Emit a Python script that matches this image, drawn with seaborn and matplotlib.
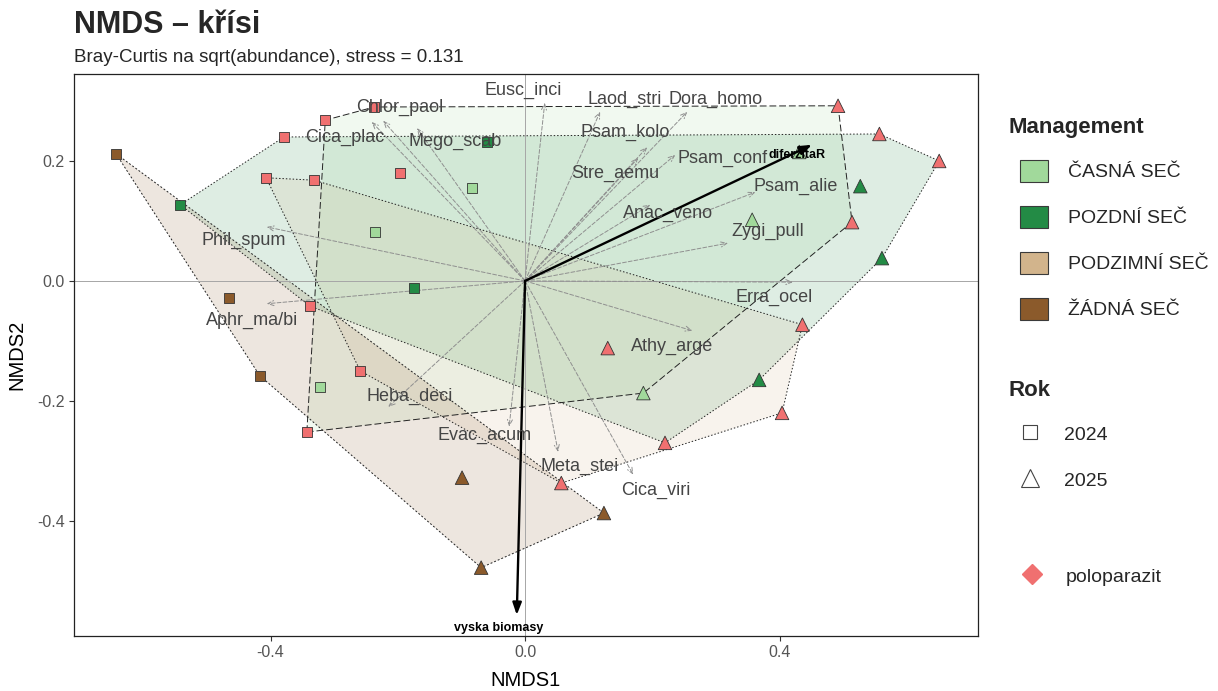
import numpy as np
import pandas as pd
import matplotlib
matplotlib.use("Agg")
import matplotlib.pyplot as plt
import seaborn as sns
from matplotlib.patches import Patch, Polygon
from matplotlib.lines import Line2D

# ---------------- data ----------------
mgmt_levels = ["ČASNÁ SEČ", "POZDNÍ SEČ", "PODZIMNÍ SEČ", "ŽÁDNÁ SEČ"]
mgmt_colors = ["#a1d99b", "#238b45", "#d2b48c", "#8b5a2b"]
polo_color = "#f07070"

site_mgmt = (["ČASNÁ SEČ"] * 11 + ["POZDNÍ SEČ"] * 12 +
             ["PODZIMNÍ SEČ"] * 7 + ["ŽÁDNÁ SEČ"] * 6)
site_year = (["2024"] * 6 + ["2025"] * 5 +
             ["2024"] * 6 + ["2025"] * 6 +
             ["2024"] * 3 + ["2025"] * 4 +
             ["2024"] * 3 + ["2025"] * 3)
site_polo = ([False, False, False, True, True, True, False, False, False, True, True] +
             [False, False, False, True, True, True, False, False, False, True, True, True] +
             [True] * 7 +
             [False] * 6)
site_x = [-0.083, -0.236, -0.322, -0.314, -0.237, -0.343, 0.186, 0.357, 0.431, 0.492, 0.514,
          -0.542, -0.060, -0.175, -0.379, -0.338, -0.197, 0.527, 0.561, 0.368, 0.557, 0.651, 0.220,
          -0.407, -0.332, -0.259, 0.057, 0.404, 0.436, 0.130,
          -0.643, -0.465, -0.417, -0.099, 0.124, -0.069]
site_y = [0.155, 0.082, -0.177, 0.268, 0.290, -0.252, -0.187, 0.102, 0.215, 0.292, 0.098,
          0.127, 0.232, -0.012, 0.240, -0.042, 0.180, 0.158, 0.038, -0.165, 0.245, 0.200, -0.270,
          0.172, 0.168, -0.150, -0.337, -0.220, -0.073, -0.112,
          0.212, -0.028, -0.158, -0.328, -0.387, -0.478]

sp_names = ["Eusc_inci", "Laod_stri", "Dora_homo", "Psam_kolo", "Psam_conf", "Stre_aemu",
            "Psam_alie", "Anac_veno", "Zygi_pull", "Erra_ocel", "Athy_arge", "Cica_viri",
            "Meta_stei", "Evac_acum", "Heba_deci", "Aphr_ma/bi", "Phil_spum", "Chlor_paol",
            "Cica_plac", "Mego_scab"]
sp_x = [0.031, 0.118, 0.255, 0.192, 0.236, 0.178, 0.362, 0.197, 0.319, 0.421, 0.263, 0.170,
        0.052, -0.025, -0.215, -0.406, -0.406, -0.223, -0.241, -0.170]
sp_y = [0.297, 0.282, 0.282, 0.223, 0.210, 0.205, 0.148, 0.127, 0.063, -0.002, -0.083, -0.323,
        -0.285, -0.243, -0.210, -0.038, 0.090, 0.267, 0.265, 0.255]
# repelled label positions
sp_lab_x = [-0.003, 0.156, 0.300, 0.157, 0.310, 0.142, 0.425, 0.225, 0.382, 0.392, 0.231, 0.206,
            0.086, -0.064, -0.182, -0.429, -0.442, -0.197, -0.283, -0.110]
sp_lab_y = [0.317, 0.303, 0.303, 0.248, 0.205, 0.180, 0.158, 0.113, 0.082, -0.027, -0.110, -0.350,
            -0.310, -0.257, -0.192, -0.065, 0.068, 0.290, 0.240, 0.232]

env_names = ["diferzitaR", "vyska biomasy"]
env_x = [0.451, -0.013]
env_y = [0.227, -0.557]
env_lab_x = [0.428, -0.041]
env_lab_y = [0.210, -0.578]

df = pd.DataFrame({"NMDS1": site_x, "NMDS2": site_y, "Management": site_mgmt,
                   "Rok": site_year, "polo": site_polo})
pal = dict(zip(mgmt_levels, mgmt_colors))
markers = {"2024": "s", "2025": "^"}
sizes = {"2024": 52, "2025": 95}


def convex_hull(points):
    pts = sorted(set(points))
    def cross(o, a, b):
        return (a[0] - o[0]) * (b[1] - o[1]) - (a[1] - o[1]) * (b[0] - o[0])
    lower, upper = [], []
    for p in pts:
        while len(lower) >= 2 and cross(lower[-2], lower[-1], p) <= 0:
            lower.pop()
        lower.append(p)
    for p in reversed(pts):
        while len(upper) >= 2 and cross(upper[-2], upper[-1], p) <= 0:
            upper.pop()
        upper.append(p)
    return lower[:-1] + upper[:-1]


# ---------------- plot ----------------
sns.set_theme(style="white")
plt.rcParams["font.family"] = ["Liberation Sans", "DejaVu Sans"]

fig = plt.figure(figsize=(12.18, 6.91), dpi=100)
ax = fig.add_axes([74 / 1218, 1 - 636 / 691, (978 - 74) / 1218, (636 - 74) / 691])

hull_styles = {"ČASNÁ SEČ": (0, (7, 3)), "POZDNÍ SEČ": (0, (1.5, 2)),
               "PODZIMNÍ SEČ": (0, (1.5, 2)), "ŽÁDNÁ SEČ": (0, (2, 2))}
for m in mgmt_levels:
    sub = df[df.Management == m]
    h = convex_hull(list(zip(sub.NMDS1, sub.NMDS2)))
    ax.add_patch(Polygon(h, closed=True, facecolor=pal[m], alpha=0.15,
                         edgecolor="none", zorder=1))
    hx = [p[0] for p in h] + [h[0][0]]
    hy = [p[1] for p in h] + [h[0][1]]
    ax.plot(hx, hy, color="#222222", lw=0.7, linestyle=hull_styles[m], zorder=1.2)

ax.axhline(0, color="#a6a6a6", lw=0.7, zorder=1.5)
ax.axvline(0, color="#a6a6a6", lw=0.7, zorder=1.5)

for x, y in zip(sp_x, sp_y):
    ax.annotate("", xy=(x, y), xytext=(0, 0),
                arrowprops=dict(arrowstyle="->,head_length=0.35,head_width=0.15",
                                color="#8f8f8f", lw=0.7, linestyle=(0, (4, 2)),
                                shrinkA=0, shrinkB=0), zorder=2)

sns.scatterplot(data=df[~df.polo], x="NMDS1", y="NMDS2", hue="Management",
                hue_order=mgmt_levels, palette=pal, style="Rok", markers=markers,
                size="Rok", sizes=sizes,
                edgecolor="#333333", linewidth=0.6, legend=False, ax=ax, zorder=4)
sns.scatterplot(data=df[df.polo], x="NMDS1", y="NMDS2", style="Rok", markers=markers,
                size="Rok", sizes=sizes,
                color=polo_color, edgecolor="#333333", linewidth=0.6,
                legend=False, ax=ax, zorder=4)

for x, y in zip(env_x, env_y):
    ax.annotate("", xy=(x, y), xytext=(0, 0),
                arrowprops=dict(arrowstyle="-|>,head_length=0.6,head_width=0.22",
                                color="black", lw=1.7, shrinkA=0, shrinkB=0), zorder=5)

for name, x, y in zip(sp_names, sp_lab_x, sp_lab_y):
    ax.text(x, y, name, fontsize=13, color="#454545", ha="center", va="center", zorder=6)
for name, x, y in zip(env_names, env_lab_x, env_lab_y):
    ax.text(x, y, name, fontsize=9, color="black", fontweight="bold",
            ha="center", va="center", zorder=6)

ax.set_xlim(-0.709, 0.712)
ax.set_ylim(-0.592, 0.345)
ax.set_xticks([-0.4, 0.0, 0.4])
ax.set_xticklabels(["-0.4", "0.0", "0.4"])
ax.set_yticks([-0.4, -0.2, 0.0, 0.2])
ax.set_yticklabels(["-0.4", "-0.2", "0.0", "0.2"])
ax.tick_params(axis="both", which="both", direction="out", length=3.5, width=0.8,
               color="#333333", labelcolor="#555555", labelsize=11.5, pad=3,
               bottom=True, left=True)
for sp in ax.spines.values():
    sp.set_color("#222222")
    sp.set_linewidth(0.9)
ax.set_xlabel("NMDS1", fontsize=14.5, color="black", labelpad=8)
ax.set_ylabel("NMDS2", fontsize=14.5, color="black", labelpad=8)

fig.text(74 / 1218, 1 - 33 / 691, "NMDS – křísi", fontsize=22, fontweight="bold",
         ha="left", va="baseline")
fig.text(74 / 1218, 1 - 62 / 691, "Bray-Curtis na sqrt(abundance), stress = 0.131",
         fontsize=13.5, ha="left", va="baseline")

# ---------------- legends ----------------
fig.text(1008 / 1218, 1 - 128 / 691, "Management", fontsize=16, fontweight="bold",
         ha="left", va="center")
mg_handles = [Patch(facecolor=c, edgecolor="#3a3a3a", linewidth=0.8) for c in mgmt_colors]
leg1 = fig.legend(mg_handles, mgmt_levels, loc="upper left",
                  bbox_to_anchor=(1020 / 1218, 1 - 160 / 691), frameon=False,
                  fontsize=14, handlelength=1.45, handleheight=1.35, labelspacing=1.24,
                  handletextpad=1.0, borderpad=0, borderaxespad=0)

fig.text(1008 / 1218, 1 - 390 / 691, "Rok", fontsize=16, fontweight="bold",
         ha="left", va="center")
rok_handles = [Line2D([], [], linestyle="none", marker="s", markersize=10,
                      markerfacecolor="none", markeredgecolor="#444444", markeredgewidth=0.8),
               Line2D([], [], linestyle="none", marker="^", markersize=13,
                      markerfacecolor="none", markeredgecolor="#444444", markeredgewidth=0.8)]
leg2 = fig.legend(rok_handles, ["2024", "2025"], loc="upper left",
                  bbox_to_anchor=(1016 / 1218, 1 - 423 / 691), frameon=False,
                  fontsize=14, handlelength=1.45, handleheight=1.35, labelspacing=1.24,
                  handletextpad=1.0, borderpad=0, borderaxespad=0)

polo_handle = [Line2D([], [], linestyle="none", marker="D", markersize=10,
                      markerfacecolor=polo_color, markeredgecolor=polo_color)]
leg3 = fig.legend(polo_handle, ["poloparazit"], loc="upper left",
                  bbox_to_anchor=(1018 / 1218, 1 - 565 / 691), frameon=False,
                  fontsize=14, handlelength=1.45, handleheight=1.35,
                  handletextpad=1.0, borderpad=0, borderaxespad=0)

fig.savefig("out.png", dpi=100)
